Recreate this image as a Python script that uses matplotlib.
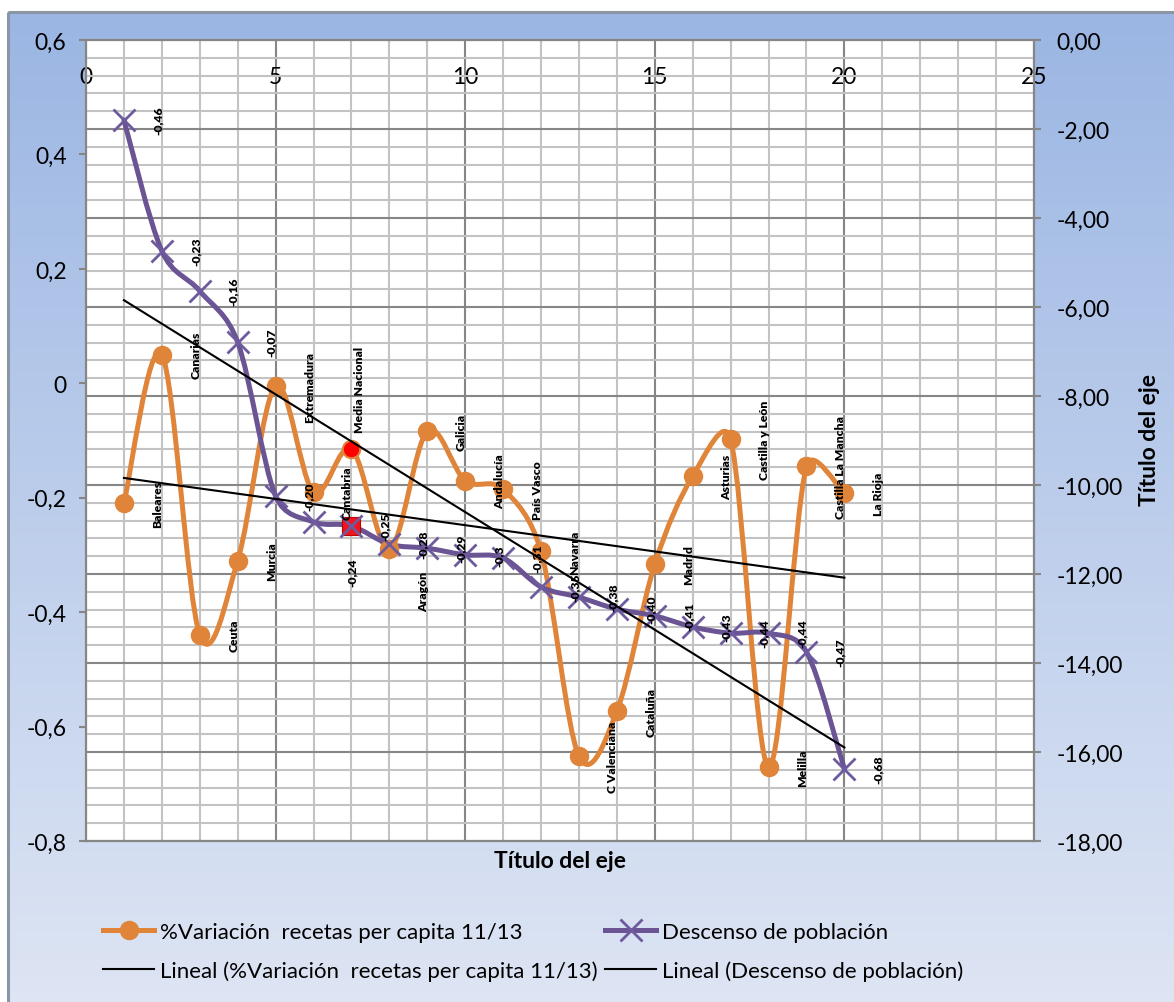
import numpy as np
import matplotlib
matplotlib.use("Agg")
import matplotlib.pyplot as plt
from matplotlib.path import Path
from matplotlib.patches import PathPatch, Rectangle
from matplotlib.lines import Line2D
from matplotlib.colors import LinearSegmentedColormap
from matplotlib.ticker import MultipleLocator, FuncFormatter

plt.rcParams['font.family'] = ['Lato', 'DejaVu Sans']

# datos
posicion = list(range(1, 21))
variacion_recetas = [-0.21, 0.05, -0.44, -0.31, -0.005, -0.19, -0.115, -0.29, -0.084, -0.17,
                     -0.185, -0.294, -0.652, -0.573, -0.316, -0.162, -0.098, -0.671, -0.145, -0.192]
descenso_poblacion = [-1.80, -4.74, -5.64, -6.79, -10.25, -10.83, -10.92, -11.33, -11.42, -11.57,
                      -11.64, -12.29, -12.52, -12.79, -12.94, -13.19, -13.33, -13.33, -13.75, -16.38]
comunidades = ["Baleares", "Canarias", "Ceuta", "Murcia", "Extremadura", "Cantabria",
               "Media Nacional", "Aragón", "Galicia", "Andalucía", "País Vasco", "Navarra",
               "C Valenciana", "Cataluña", "Madrid", "Asturias", "Castilla y León", "Melilla",
               "Castilla La Mancha", "La Rioja"]
etiquetas_poblacion = ["-0,46", "-0,23", "-0,16", "-0,07", "-0,20", "-0,24", "-0,25", "-0,28",
                       "-0,29", "-0,3", "-0,31", "-0,35", "-0,38", "-0,40", "-0,41", "-0,43",
                       "-0,44", "-0,44", "-0,47", "-0,68"]
destacado = 6  # Media Nacional

NARANJA = '#DF8438'
MORADO = '#6A5494'
GRIS = '#868686'
GRIS_CLARO = '#C3C3C3'
FS = 16.5

# desplazamientos manuales de etiquetas (puntos)
mover_comunidad = {6: (6, 43), 7: (24.5, -30)}
mover_poblacion = {5: (28, -36)}


def curva_suave(xs, ys, trans):
    # suavizado como Excel: Bezier en pixeles, tangente limitada a medio tramo
    p = trans.transform(np.column_stack([xs, ys]).astype(float))
    ext = np.vstack([p[0], p, p[-1]])
    verts = [p[0]]
    codes = [Path.MOVETO]
    for i in range(len(p) - 1):
        p0, p1, p2, p3 = ext[i], ext[i + 1], ext[i + 2], ext[i + 3]
        d12 = np.hypot(*(p2 - p1))
        d02 = np.hypot(*(p2 - p0))
        d13 = np.hypot(*(p3 - p1))
        f = 1 / 6 if d02 / 6 < d12 / 2 else d12 / (2 * d02)
        g = 1 / 6 if d13 / 6 < d12 / 2 else d12 / (2 * d13)
        verts += [p1 + f * (p2 - p0), p2 - g * (p3 - p1), p2]
        codes += [Path.CURVE4] * 3
    return Path(trans.inverted().transform(np.array(verts)), codes)


W, H = 1174, 1003
fig = plt.figure(figsize=(W / 100, H / 100), dpi=100, facecolor='white')

# fondo degradado del area del grafico
bg = fig.add_axes([0, 0, 1, 1], zorder=-10)
bg.set_xlim(0, W)
bg.set_ylim(H, 0)
bg.axis('off')
cmap_bg = LinearSegmentedColormap.from_list('fondo', ['#9BB6E3', '#DFE6F4'])
bg.imshow(np.linspace(0, 1, 256).reshape(-1, 1), cmap=cmap_bg, aspect='auto',
          extent=(8, W + 20, H + 20, 13))
bg.add_patch(Rectangle((8, 13), W + 20, H + 20, fill=False, ec='#8A96A6', lw=2.2))

ax = fig.add_axes([86 / W, 1 - 842 / H, (1034 - 86) / W, (842 - 41) / H])
ax2 = ax.twinx()
ax.set_xlim(0, 25)
ax.set_ylim(-0.8, 0.6)
ax2.set_ylim(-18, 0)
ax.set_autoscale_on(False)
ax2.set_autoscale_on(False)

# series
ax2.add_patch(PathPatch(curva_suave(posicion, variacion_recetas, ax.transData), transform=ax.transData,
                        fill=False, ec=NARANJA, lw=3.6, zorder=3, capstyle='round', joinstyle='round'))
ax2.plot(posicion, variacion_recetas, 'o', transform=ax.transData, color=NARANJA, ms=13, zorder=4)
ax2.plot(posicion[destacado], variacion_recetas[destacado], 'o', transform=ax.transData,
         color='#FF0000', ms=10, zorder=4.5)

ax2.add_patch(PathPatch(curva_suave(posicion, descenso_poblacion, ax2.transData), fill=False,
                        ec=MORADO, lw=3.6, zorder=3.2, capstyle='round', joinstyle='round'))
ax2.plot(posicion[destacado], descenso_poblacion[destacado], 's', color='#F0141E', ms=13,
         mec='#C00000', mew=0.8, zorder=4.6)
ax2.plot(posicion, descenso_poblacion, 'x', color='#6E5A9E', ms=16, mew=2, zorder=4.7)

# lineas de tendencia
extremos = [posicion[0], posicion[-1]]
coef_r = np.polyfit(posicion, variacion_recetas, 1)
coef_p = np.polyfit(posicion, descenso_poblacion, 1)
ax2.plot(extremos, np.polyval(coef_r, extremos), transform=ax.transData, color='black', lw=1.5, zorder=6)
ax2.plot(extremos, np.polyval(coef_p, extremos), color='black', lw=1.5, zorder=6)

# etiquetas de datos
for i, nombre in enumerate(comunidades):
    ax2.annotate(nombre, (posicion[i], variacion_recetas[i]), xycoords=ax.transData,
                 xytext=mover_comunidad.get(i, (24.5, 0)), textcoords='offset points',
                 rotation=90, ha='center', va='center', fontsize=8.7, fontweight='heavy', zorder=7)
for i, txt in enumerate(etiquetas_poblacion):
    ax2.annotate(txt, (posicion[i], descenso_poblacion[i]),
                 xytext=mover_poblacion.get(i, (24.5, 0)), textcoords='offset points',
                 rotation=90, ha='center', va='center', fontsize=8.7, fontweight='heavy', zorder=7)

# ejes
ax.set_xticks(range(0, 26, 5))
ax.xaxis.set_minor_locator(MultipleLocator(1))
ax.set_yticks(np.arange(-0.8, 0.61, 0.2))
ax2.set_yticks(range(-18, 1, 2))
ax2.yaxis.set_minor_locator(MultipleLocator(0.4))
ax.yaxis.set_minor_locator(plt.NullLocator())

ax.grid(which='minor', axis='x', color=GRIS_CLARO, lw=1.5)
ax.grid(which='major', axis='x', color=GRIS, lw=1.5)
ax2.grid(which='minor', axis='y', color=GRIS_CLARO, lw=1.5)
ax2.grid(which='major', axis='y', color=GRIS, lw=1.5)

ax.yaxis.set_major_formatter(FuncFormatter(
    lambda v, p: "0" if abs(v) < 1e-9 else f"{v:.1f}".replace(".", ",")))
ax2.yaxis.set_major_formatter(FuncFormatter(
    lambda v, p: "0,00" if abs(v) < 1e-9 else f"{v:.2f}".replace(".", ",")))

ax.xaxis.tick_top()
ax.tick_params(axis='x', which='both', length=0, labelsize=FS, pad=-34)
ax.tick_params(axis='y', which='major', direction='out', length=5, width=1.5, color=GRIS,
               labelsize=FS, pad=9)
ax2.tick_params(axis='y', which='major', direction='out', length=5, width=1.5, color=GRIS,
                labelsize=FS, pad=11)
ax2.tick_params(axis='y', which='minor', length=0)
for a in (ax, ax2):
    for s in a.spines.values():
        s.set_color(GRIS)
        s.set_linewidth(1.5)

fig.text(560 / W, 1 - 862 / H, "Título del eje", ha='center', va='center', fontsize=FS,
         fontweight='bold')
fig.text(1150 / W, 1 - 440 / H, "Título del eje", ha='center', va='center', fontsize=FS,
         fontweight='bold', rotation=90)

# leyenda
h_nar = Line2D([], [], color=NARANJA, lw=3.6, marker='o', ms=13)
h_mor = Line2D([], [], color=MORADO, lw=3.6, marker='x', ms=16, mew=2, mec='#6E5A9E')
h_tr = Line2D([], [], color='black', lw=1.5)
opts = dict(loc='upper left', frameon=False, fontsize=16, handlelength=2.3, handletextpad=0.25,
            labelspacing=0.82, borderpad=0, borderaxespad=0)
fig.legend([h_nar, h_tr], ["%Variación  recetas per capita 11/13",
                           "Lineal (%Variación  recetas per capita 11/13)"],
           bbox_to_anchor=(103 / W, 1 - 923 / H), **opts)
fig.legend([h_mor, h_tr], ["Descenso de población", "Lineal (Descenso de población)"],
           bbox_to_anchor=(605 / W, 1 - 923 / H), **opts)

fig.savefig("out.png", dpi=100, facecolor='white')
